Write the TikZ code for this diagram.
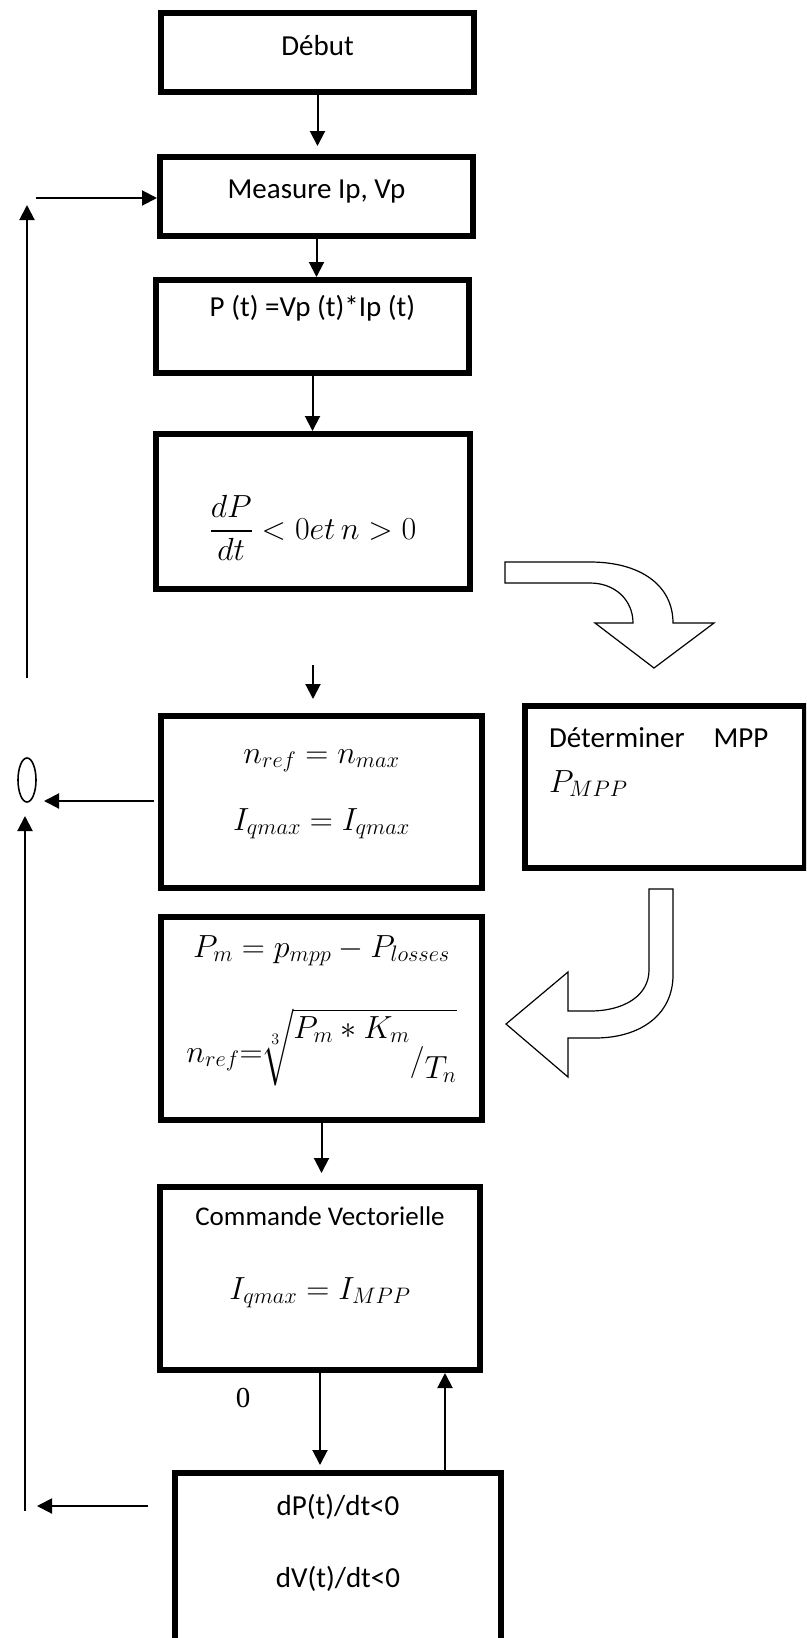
\documentclass[tikz,border=0pt]{standalone}
\usepackage{fix-cm}
\usepackage{fontspec}
\setmainfont{Carlito}
\newfontfamily\chiffre{Liberation Serif}
\usetikzlibrary{arrows.meta, positioning, shapes.geometric}
\DeclareMathSizes{29}{32}{22.4}{16}
\DeclareFontFamily{OMX}{cmex}{}
\DeclareFontShape{OMX}{cmex}{m}{n}{<->cmex10}{}

\begin{document}
\begin{tikzpicture}[x=1pt, y=-1pt,
  box/.style={draw, line width=6pt, inner sep=0pt, align=center,
  font=\fontsize{29}{35}\selectfont},
  arr/.style={-{Triangle[length=15pt, width=15pt]}, line width=2pt},
  bloc/.style={draw, fill=white, line width=1.2pt}
]
\useasboundingbox (0,0) rectangle (806,1638);
\clip (0,0) rectangle (806,1638);

\node[box, minimum width=313pt, minimum height=79pt, text height=15pt, text depth=10pt] (debut) at (317.5,52.5) {Début};
\node[box, minimum width=313pt, minimum height=79pt, text height=13pt, text depth=10pt] (mesure) at (316.5,196.5) {Measure Ip, Vp};
\node[box, minimum width=313pt, minimum height=93pt, text height=10pt, text depth=31pt] (puiss) at (312.5,326.5) {P (t) =Vp (t)*Ip (t)};
\node[box, minimum width=314pt, minimum height=155pt, text height=60pt, text depth=5pt] (deriv) at (313,511.5) {$\displaystyle\frac{dP}{dt} < 0et\,n > 0$};
\node[box, minimum width=321pt, minimum height=172pt, text height=66pt, text depth=10pt] (nref) at (321.5,802) {$n_{ref} = n_{max}$\\[32pt]$I_{qmax} = I_{qmax}$};
\node[box, minimum width=280pt, minimum height=162pt, text height=10pt, text depth=90pt, align=left, text width=232pt] (mpp) at (665,787) {Déterminer~~~MPP\\[10pt]$P_{MPP}$};
\node[box, minimum width=321pt, minimum height=203pt, text height=97pt, text depth=10pt] (calc) at (321.5,1018.5) {$P_m = p_{mpp} - P_{losses}$\\[70pt]\smash{$n_{ref}{=}\sqrt[3]{\raisebox{24pt}{$P_m * K_m$}\raisebox{-8pt}{$/$}\raisebox{-16pt}{$T_n$}}$}};
\node[box, minimum width=320pt, minimum height=183pt, text height=51pt, text depth=10pt] (cmd) at (320,1278.5) {{\fontsize{27}{35}\selectfont Commande Vectorielle}\\[39pt]$I_{qmax} = I_{MPP}$};
\node[box, minimum width=326pt, minimum height=184pt, text height=54pt, text depth=10pt] (test) at (338,1565) {dP(t)/dt<0\\[37pt]dV(t)/dt<0};

\node[draw, ellipse, line width=1.6pt, minimum width=18pt, minimum height=44pt, inner sep=0pt] (ovale) at (27,780) {};
\node[anchor=base, font=\chiffre\fontsize{29}{35}\selectfont] (zero) at (243,1407) {0};

\coordinate (h1) at (27,678);
\coordinate (h2) at (27,205);
\coordinate (e1) at (36,198);
\coordinate (o1) at (44,801);
\coordinate (b1) at (25,1511);
\coordinate (b2) at (25,816);
\coordinate (r1) at (37,1506);

\draw[arr] (debut.south) -- ([yshift=8pt]debut.south |- mesure.north);
\draw[arr] (mesure.south) -- (mesure.south |- puiss.north);
\draw[arr] (puiss.south) -- (puiss.south |- deriv.north);
\draw[arr, shorten <=73pt, shorten >=14pt] (deriv.south) -- (deriv.south |- nref.north);
\draw[arr, shorten >=11pt] (calc.south) -- (calc.south |- cmd.north);
\draw[arr, shorten >=5pt] (cmd.south) -- (cmd.south |- test.north);
\draw[arr] ([xshift=107pt]test.north) -- ([xshift=107pt]test.north |- cmd.south);
\draw[arr, shorten <=4pt] (nref.west |- o1) -- (o1);
\draw[arr, shorten <=24pt] (test.west |- r1) -- (r1);
\draw[arr] (e1) -- (e1 -| mesure.west);
\draw[arr] (h1) -- (h2);
\draw[arr] (b1) -- (b2);

% fleches larges
\draw[bloc] (505,562) -- (590,562) .. controls (640,562) and (673,585) .. (673,623)
  -- (714,623) -- (654,668) -- (595,623) -- (633,623)
  .. controls (633,600) and (615,583) .. (590,583) -- (505,583) -- cycle;
\draw[bloc] (649,889) -- (673,889) -- (673,975) .. controls (673,1015) and (640,1038) .. (595,1038)
  -- (568,1038) -- (568,1077) -- (506,1024) -- (568,972) -- (568,1011) -- (590,1011)
  .. controls (625,1011) and (649,995) .. (649,970) -- cycle;
\end{tikzpicture}
\end{document}
